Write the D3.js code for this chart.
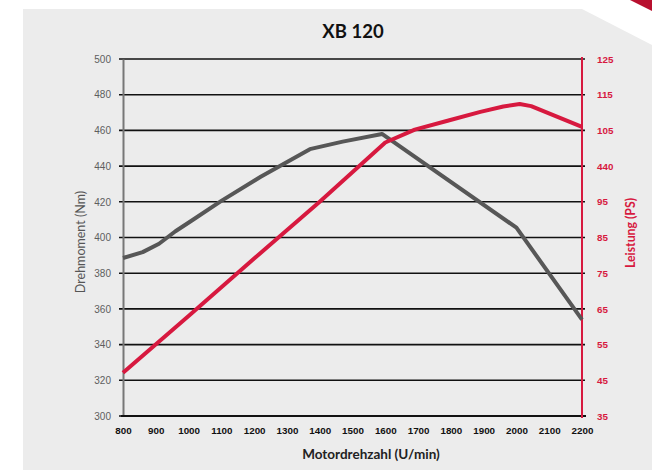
<!DOCTYPE html>
<html><head><meta charset="utf-8">
<script src="https://cdn.jsdelivr.net/npm/d3@7"></script>
<style>
html,body{margin:0;padding:0;background:#fff;}
svg{display:block;font-family:Lato,"Open Sans",sans-serif;}
</style></head><body>
<script>
const title = "XB 120";
const xTicks = [800,900,1000,1100,1200,1300,1400,1500,1600,1700,1800,1900,2000,2100,2200];
const leftTicks = [300,320,340,360,380,400,420,440,460,480,500];
// right axis: the reference puts a stray "440" label on the gridline between 95 and 105
const rightTickValues = [35,45,55,65,75,85,95,100,105,115,125];
const rightTickTexts  = ["35","45","55","65","75","85","95","440","105","115","125"];
const torqueRpm = [800,860,910,960,1010,1100,1220,1370,1470,1590,2000,2200];
const torqueNm  = [388.5,391.8,396.5,403.5,409.5,420.5,434,449.5,453.7,458,405.5,354];
const powerRpm = [800,1000,1200,1400,1600,1690,1790,1890,1960,2010,2045,2200];
const powerPS  = [47.1,63,79.1,95,103.3,105.2,107.7,110.2,111.7,112.4,111.8,106];

const W=652,H=470;
const svg=d3.select("body").append("svg").attr("width",W).attr("height",H);
svg.append("path").attr("d",`M23,9 L582,9 L652,45 L652,470 L23,470 Z`).attr("fill","#ececec");
svg.append("path").attr("d",`M630,0 L652,0 L652,11 Z`).attr("fill","#b8102f");

const x=d3.scaleLinear().domain([800,2200]).range([123,582]);
const yL=d3.scaleLinear().domain([300,500]).range([416,59]);
// piecewise: gridline slots 0..10, 95 at slot 6, 105 at slot 8
const slot=(416-59)/10;
const yR=d3.scaleLinear().domain([35,95,105,125]).range([416,416-6*slot,416-8*slot,59]);

svg.append("g").selectAll("line").data(leftTicks).join("line")
  .attr("x1",119).attr("x2",585).attr("y1",d=>yL(d)).attr("y2",d=>yL(d))
  .attr("stroke","#111").attr("stroke-width",1.6);

const gL=svg.append("g").attr("transform","translate(123,0)")
  .call(d3.axisLeft(yL).tickValues(leftTicks).tickSize(0).tickPadding(12));
gL.select(".domain").attr("stroke","#777").attr("stroke-width",2);
gL.selectAll("text").attr("fill","#5e5e5e").attr("font-size",10).attr("font-weight",400);

const gB=svg.append("g").attr("transform","translate(0,416)")
  .call(d3.axisBottom(x).tickValues(xTicks).tickFormat(d3.format("d")).tickSize(0).tickPadding(11));
gB.select(".domain").remove();
gB.selectAll("text").attr("fill","#111").attr("font-size",9.8).attr("font-weight",700);
svg.append("line").attr("x1",121).attr("x2",586).attr("y1",416).attr("y2",416).attr("stroke","#111").attr("stroke-width",2);

const gR=svg.append("g").attr("transform","translate(582,0)")
  .call(d3.axisRight(yR).tickValues(rightTickValues).tickFormat((d,i)=>rightTickTexts[i]).tickSize(0).tickPadding(15));
gR.select(".domain").remove();
gR.selectAll("text").attr("fill","#d7193f").attr("font-size",9.8).attr("font-weight",700);
svg.append("line").attr("x1",582).attr("x2",582).attr("y1",57).attr("y2",418).attr("stroke","#d7193f").attr("stroke-width",2);

const tData=torqueRpm.map((r,i)=>[r,torqueNm[i]]);
const pData=powerRpm.map((r,i)=>[r,powerPS[i]]);
svg.append("path").datum(tData).attr("fill","none").attr("stroke","#575757").attr("stroke-width",4)
  .attr("stroke-linejoin","round")
  .attr("d",d3.line().x(d=>x(d[0])).y(d=>yL(d[1])));
svg.append("path").datum(pData).attr("fill","none").attr("stroke","#d7193f").attr("stroke-width",4)
  .attr("stroke-linejoin","round")
  .attr("d",d3.line().x(d=>x(d[0])).y(d=>yR(d[1])));

svg.append("text").attr("x",353).attr("y",38).attr("text-anchor","middle")
  .attr("font-size",18.5).attr("font-weight",700).attr("fill","#111").text(title);
svg.append("text").attr("x",371).attr("y",459).attr("text-anchor","middle")
  .attr("font-size",13.5).attr("font-weight",700).attr("fill","#222").text("Motordrehzahl (U/min)");
svg.append("text").attr("transform","translate(85,242) rotate(-90)").attr("text-anchor","middle")
  .attr("font-size",12.5).attr("font-weight",400).attr("fill","#555").text("Drehmoment (Nm)");
svg.append("text").attr("transform","translate(635,233) rotate(-90)").attr("text-anchor","middle")
  .attr("font-size",12.3).attr("font-weight",700).attr("fill","#d7193f").text("Leistung (PS)");
</script>
</body></html>
